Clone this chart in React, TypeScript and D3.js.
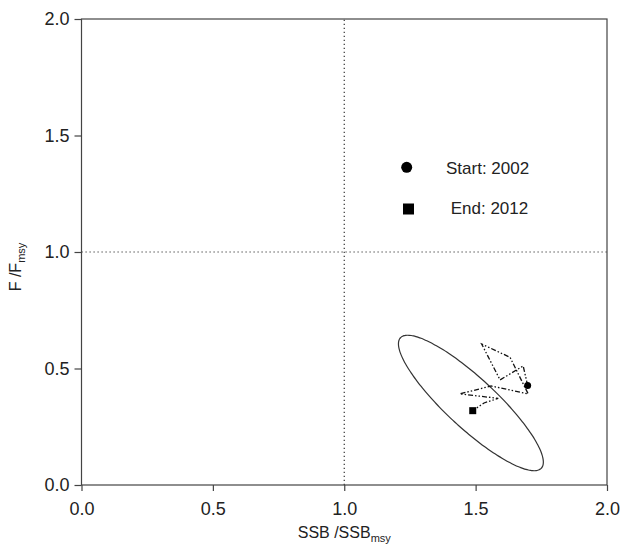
import React, { useEffect, useRef } from "react";
import * as d3 from "d3";

// trajectory 2002 -> 2012 (SSB/SSBmsy, F/Fmsy)
const years = [2002, 2003, 2004, 2005, 2006, 2007, 2008, 2009, 2010, 2011, 2012];
const ssbRatio = [1.698, 1.681, 1.593, 1.523, 1.631, 1.7, 1.559, 1.44, 1.586, 1.532, 1.489];
const fRatio = [0.427, 0.511, 0.451, 0.605, 0.548, 0.391, 0.425, 0.391, 0.372, 0.352, 0.319];

// confidence ellipse for final year: centre and two conjugate semi-axes (data units)
const ellipseCentre = [1.482, 0.352];
const ellipseAxisA = [0.268, -0.28];
const ellipseAxisB = [0.0647, 0.0785];

const tickValues = [0, 0.5, 1.0, 1.5, 2.0];
const legendLabels = ["Start: 2002", "End: 2012"];

const W = 620;
const H = 547;
const margin = { top: 19, right: 13, bottom: 62, left: 81.5 };
const FONT = "'Liberation Sans', Arial, sans-serif";

const KobePlot = () => {
  const ref = useRef<SVGSVGElement | null>(null);

  useEffect(() => {
    const svg = d3.select(ref.current);
    svg.selectAll("*").remove();

    const x = d3.scaleLinear().domain([0, 2]).range([margin.left, W - margin.right]);
    const y = d3.scaleLinear().domain([0, 2]).range([H - margin.bottom, margin.top]);

    // reference lines at 1.0
    svg.append("line")
      .attr("x1", x(1)).attr("x2", x(1))
      .attr("y1", y(0)).attr("y2", y(2))
      .attr("stroke", "#333").attr("stroke-width", 1.2)
      .attr("stroke-dasharray", "1.2,2.8");
    svg.append("line")
      .attr("x1", x(0)).attr("x2", x(2))
      .attr("y1", y(1)).attr("y2", y(1))
      .attr("stroke", "#333").attr("stroke-width", 1.2)
      .attr("stroke-dasharray", "1.2,2.8");

    // ellipse
    const angles = d3.range(0, 361, 3).map((d) => (d * Math.PI) / 180);
    const ellipsePts = angles.map((t) => [
      ellipseCentre[0] + Math.cos(t) * ellipseAxisA[0] + Math.sin(t) * ellipseAxisB[0],
      ellipseCentre[1] + Math.cos(t) * ellipseAxisA[1] + Math.sin(t) * ellipseAxisB[1],
    ]);
    svg.append("path")
      .datum(ellipsePts)
      .attr("fill", "none")
      .attr("stroke", "#333")
      .attr("stroke-width", 1.2)
      .attr("d", d3.line<number[]>().x((d) => x(d[0])).y((d) => y(d[1])).curve(d3.curveCardinalClosed));

    // trajectory
    const traj = years.map((yr, i) => ({ yr, s: ssbRatio[i], f: fRatio[i] }));
    svg.append("path")
      .datum(traj)
      .attr("fill", "none")
      .attr("stroke", "#111")
      .attr("stroke-width", 1.3)
      .attr("stroke-dasharray", "5,2,1.5,2,1.5,2")
      .attr("d", d3.line<any>().x((d) => x(d.s)).y((d) => y(d.f)));

    const first = traj[0];
    const last = traj[traj.length - 1];
    svg.append("circle").attr("cx", x(first.s)).attr("cy", y(first.f)).attr("r", 3.5).attr("fill", "#000");
    svg.append("rect")
      .attr("x", x(last.s) - 3.5).attr("y", y(last.f) - 3.5)
      .attr("width", 7).attr("height", 7).attr("fill", "#000");

    // frame
    svg.append("rect")
      .attr("x", x(0)).attr("y", y(2))
      .attr("width", x(2) - x(0)).attr("height", y(0) - y(2))
      .attr("fill", "none").attr("stroke", "#444").attr("stroke-width", 1.2);

    const fmt = d3.format(".1f");
    const xAxis = svg.append("g")
      .attr("transform", `translate(0,${y(0)})`)
      .call(d3.axisBottom(x).tickValues(tickValues).tickFormat((d) => fmt(d as number)).tickSize(6).tickSizeOuter(0).tickPadding(11));
    const yAxis = svg.append("g")
      .attr("transform", `translate(${x(0)},0)`)
      .call(d3.axisLeft(y).tickValues(tickValues).tickFormat((d) => fmt(d as number)).tickSize(7).tickSizeOuter(0).tickPadding(5));

    [xAxis, yAxis].forEach((g) => {
      g.select(".domain").remove();
      g.selectAll(".tick line").attr("stroke", "#444").attr("stroke-width", 1.2);
      g.selectAll(".tick text").attr("font-family", FONT).attr("font-size", 18).attr("fill", "#222");
    });

    // axis titles
    const xt = svg.append("text")
      .attr("x", (x(0) + x(2)) / 2)
      .attr("y", 538)
      .attr("text-anchor", "middle")
      .attr("font-family", FONT).attr("font-size", 16).attr("fill", "#222");
    xt.append("tspan").text("SSB /SSB");
    xt.append("tspan").attr("font-size", 11).attr("dy", 4).text("msy");

    const yt = svg.append("text")
      .attr("transform", "rotate(-90)")
      .attr("x", -267)
      .attr("y", 21)
      .attr("text-anchor", "middle")
      .attr("font-family", FONT).attr("font-size", 16).attr("fill", "#222");
    yt.append("tspan").text("F /F");
    yt.append("tspan").attr("font-size", 11).attr("dy", 4).text("msy");

    // legend
    const legend = svg.append("g");
    legend.append("circle").attr("cx", 406.7).attr("cy", 167.3).attr("r", 5.5).attr("fill", "#000");
    legend.append("rect").attr("x", 403).attr("y", 203.5).attr("width", 11).attr("height", 11).attr("fill", "#000");
    legend.selectAll("text.lg")
      .data(legendLabels)
      .join("text")
      .attr("class", "lg")
      .attr("x", (d, i) => (i === 0 ? 446 : 450.7))
      .attr("y", (d, i) => (i === 0 ? 174 : 214))
      .attr("font-family", FONT).attr("font-size", 17).attr("fill", "#222")
      .text((d) => d);
  }, []);

  return <svg ref={ref} width={W} height={H} style={{ display: "block" }} />;
};

export default function App() {
  return (
    <div style={{ position: "fixed", left: 0, top: 0, width: W, height: H, background: "#fff" }}>
      <KobePlot />
    </div>
  );
}
